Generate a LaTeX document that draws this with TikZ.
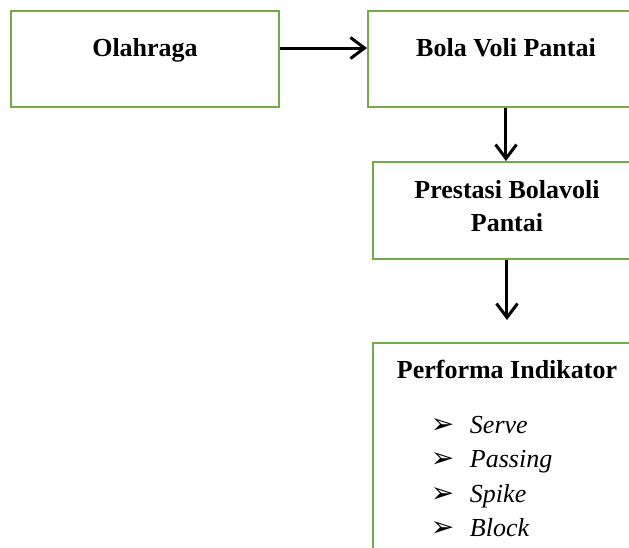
\documentclass[tikz,border=0pt]{standalone}
\usepackage{fontspec}
\setmainfont{Liberation Serif}
\newfontfamily\dingfont{DejaVu Sans}
\usetikzlibrary{arrows.meta,positioning}
\definecolor{boxgreen}{HTML}{70AD47}

\newcommand{\itmark}{\makebox[19.5pt][l]{\dingfont\fontsize{14}{14}\selectfont\char"27A2}}

\begin{document}
\begin{tikzpicture}[
    x=0.5pt, y=-0.5pt,
    font=\fontsize{13}{16.5}\selectfont\bfseries,
    >={Straight Barb[length=7pt,width=10.5pt]},
    box/.style={rectangle,draw=boxgreen,line width=1pt,inner sep=0pt,anchor=north west},
    flow/.style={->,line width=1.5pt}]

  \useasboundingbox (0,0) rectangle (629,548);

  % ---------------- top row
  \node[box] (olah) at (10,10)
       {\parbox[t][48pt][t]{134pt}{\centering\rule{0pt}{22.5pt}Olahraga}};
  \node[box] (bola) at (367,10)
       {\parbox[t][48pt][t]{138pt}{\centering\rule{0pt}{22.5pt}Bola Voli Pantai}};

  % ---------------- right column
  \node[box] (pres) at (372,161)
       {\parbox[t][48.5pt][t]{134pt}{\centering\rule{0pt}{18pt}Prestasi Bolavoli\\Pantai}};
  \node[box] (perf) at (372,342)
       {\parbox[t][110pt][t]{134pt}{\centering\rule{0pt}{17.5pt}Performa Indikator\par
        \vspace{10.5pt}\raggedright\normalfont\itshape\fontsize{13}{17.2}\selectfont
        \hspace*{29pt}\itmark Serve\par
        \hspace*{29pt}\itmark Passing\par
        \hspace*{29pt}\itmark Spike\par
        \hspace*{29pt}\itmark Block}};

  % ---------------- connectors
  \draw[flow] ([yshift=5.5pt]olah.east) -- ([yshift=5.5pt]bola.west);
  \draw[flow] (bola.south) -- (bola.south |- pres.north);
  \draw[flow] (pres.south) -- ([yshift=11pt]perf.north);
\end{tikzpicture}
\end{document}
